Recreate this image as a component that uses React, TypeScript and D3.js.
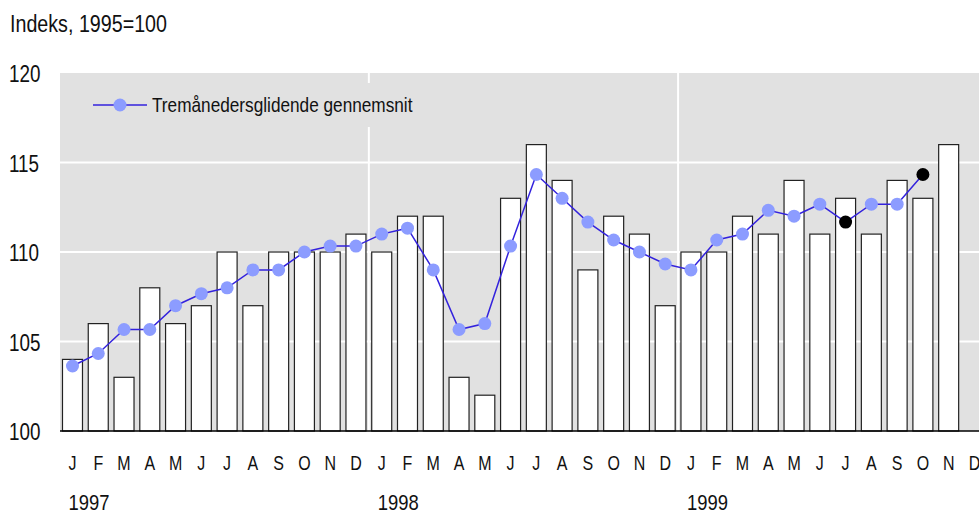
import React from "react";
import * as d3 from "d3";

const months = ["J","F","M","A","M","J","J","A","S","O","N","D","J","F","M","A","M","J","J","A","S","O","N","D","J","F","M","A","M","J","J","A","S","O","N","D"];
const years = ["1997", "1998", "1999"];
const barValues: (number | null)[] = [
  104, 106, 103, 108, 106, 107, 110, 107, 110, 110, 110, 111,
  110, 112, 112, 103, 102, 113, 116, 114, 109, 112, 111, 107,
  110, 110, 112, 111, 114, 111, 113, 111, 114, 113, 116, null,
];
const avgValues: number[] = [
  103.63, 104.33, 105.67, 105.67, 107.0, 107.67, 108.0, 109.0, 109.0, 110.0, 110.33, 110.33,
  111.0, 111.33, 109.0, 105.67, 106.0, 110.33, 114.33, 113.0, 111.67, 110.67, 110.0, 109.33,
  109.0, 110.67, 111.0, 112.33, 112.0, 112.67, 111.67, 112.67, 112.67, 114.33,
];
const highlighted = [30, 33];
const yTicks = [100, 105, 110, 115, 120];
const legendLabel = "Tremånedersglidende gennemsnit";
const title = "Indeks, 1995=100";

const W = 979, H = 513;
const plotLeft = 60, plotTop = 73, plotBottom = 431;
const slotStart = 59.6, slotW = 25.77;
const FONT = "'Liberation Sans', Arial, sans-serif";
const SX = 0.82;

function NText(props: { x: number; y: number; size: number; anchor?: string; children: React.ReactNode }) {
  return (
    <g transform={`translate(${props.x},${props.y}) scale(${SX},1)`}>
      <text x={0} y={0} fontFamily={FONT} fontSize={props.size} fill="#111" textAnchor={props.anchor ?? "start"}>
        {props.children}
      </text>
    </g>
  );
}

export default function App() {
  const x = d3.scaleBand<number>()
    .domain(d3.range(months.length))
    .range([slotStart, slotStart + slotW * months.length])
    .paddingInner(0.224)
    .paddingOuter(0.112);
  const y = d3.scaleLinear().domain([100, 120]).range([plotBottom, plotTop]);
  const cx = (i: number) => slotStart + slotW * (i + 0.5);
  const line = d3.line<number>().x((_, i) => cx(i)).y((d) => y(d));

  return (
    <svg width={W} height={H} style={{ position: "absolute", left: 0, top: 0, background: "#fff" }}>
      <NText x={10} y={32} size={24}>{title}</NText>
      <rect x={plotLeft} y={plotTop} width={W - plotLeft} height={plotBottom - plotTop} fill="#e1e1e1" />
      {yTicks.filter((t) => t > 100 && t < 120).map((t) => (
        <line key={t} x1={plotLeft} x2={W} y1={y(t)} y2={y(t)} stroke="#fff" strokeWidth={2} />
      ))}
      {[12, 24].map((i) => (
        <line key={i} x1={slotStart + slotW * i} x2={slotStart + slotW * i} y1={plotTop} y2={plotBottom} stroke="#fff" strokeWidth={2} />
      ))}
      <rect x={60} y={83} width={380} height={44} fill="#e1e1e1" />
      <line x1={93} x2={147} y1={105} y2={105} stroke="#3322dd" strokeWidth={1.5} />
      <circle cx={120} cy={105} r={6.5} fill="#8c9cff" />
      <NText x={152} y={112} size={21}>{legendLabel}</NText>
      {barValues.map((v, i) => v == null ? null : (
        <rect key={i} x={x(i)!} y={y(v)} width={x.bandwidth()} height={plotBottom - y(v)}
          fill="#fff" stroke="#222" strokeWidth={1.2} />
      ))}
      <line x1={plotLeft} x2={W} y1={plotBottom} y2={plotBottom} stroke="#000" strokeWidth={1.5} />
      <path d={line(avgValues) ?? ""} fill="none" stroke="#3322dd" strokeWidth={1.5} />
      {avgValues.map((v, i) => (
        <circle key={i} cx={cx(i)} cy={y(v)} r={6.5} fill={highlighted.includes(i) ? "#000" : "#8c9cff"} />
      ))}
      {yTicks.map((t) => (
        <NText key={t} x={9} y={y(t) + 9} size={23}>{t}</NText>
      ))}
      {months.map((m, i) => (
        <NText key={i} x={cx(i)} y={470} size={19.5} anchor="middle">{m}</NText>
      ))}
      {years.map((yr, k) => (
        <NText key={yr} x={cx(k * 12) - 4} y={510} size={22.5}>{yr}</NText>
      ))}
    </svg>
  );
}
